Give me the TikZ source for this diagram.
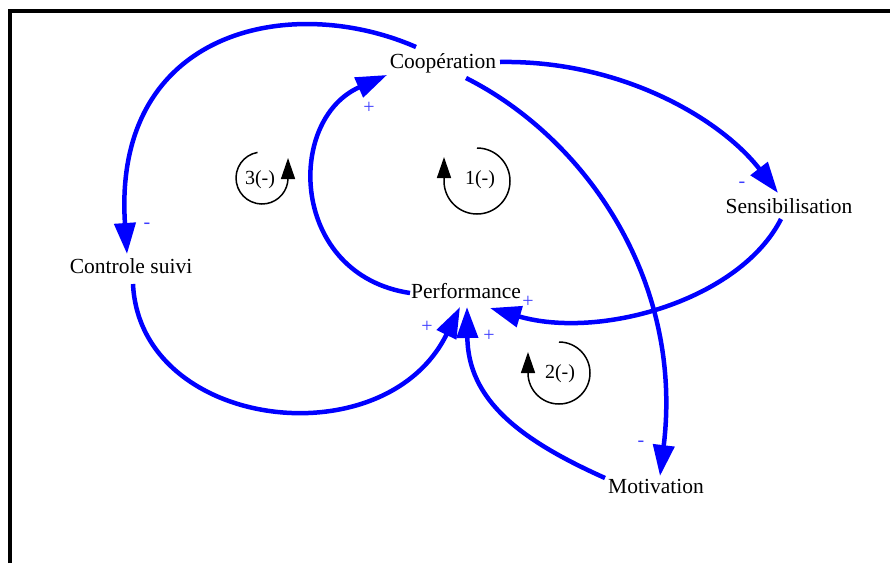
\documentclass[tikz,border=0pt]{standalone}
\usepackage{fontspec}
\setmainfont{Liberation Serif}
\usetikzlibrary{arrows.meta,calc}
\definecolor{lnk}{RGB}{0,0,255}
\definecolor{sgn}{RGB}{60,60,255}
\begin{document}
\begin{tikzpicture}[x=1pt,y=-1pt,
  var/.style={anchor=base,inner sep=0pt,font=\fontsize{21.5}{24}\selectfont},
  link/.style={draw=lnk,line width=4.5pt,-{Triangle[length=31pt,width=21pt]}},
  sgnlbl/.style={text=sgn,inner sep=0pt,font=\fontsize{20}{22}\selectfont},
  loopar/.style={draw=black,line width=1.5pt,-{Triangle[length=21pt,width=14pt]}},
  looplbl/.style={inner sep=0pt,font=\fontsize{20}{22}\selectfont}]
\useasboundingbox (0,0) rectangle (890,563);
\draw[line width=4pt] (10,563) -- (10,11.3) -- (890,11.3);

% variables
\node[var] (coop)  at (443,68)  {Coopération};
\node[var] (sens)  at (789,213) {Sensibilisation};
\node[var] (ctrl)  at (131,273) {Controle suivi};
\node[var] (perf)  at (466,298) {Performance};
\node[var] (motiv) at (656,493) {Motivation};

% links
\draw[link] ($(coop.base)+(-27,-21)$) .. controls (290,-8) and (112,30) .. ($(ctrl.base)+(-4,-19)$);
\draw[link] ($(perf.base)+(-56,-5)$) .. controls (290,275) and (285,120) .. ($(coop.base)+(-56,7)$);
\draw[link] ($(coop.base)+(57,-6)$) .. controls (620,60) and (720,118) .. ($(sens.base)+(-11,-20)$);
\draw[link] ($(sens.base)+(-8,6)$) .. controls (740,300) and (600,340) .. ($(perf.base)+(24,10)$);
\draw[link] ($(coop.base)+(23,10)$) .. controls (585,138) and (684,280) .. ($(motiv.base)+(4,-17)$);
\draw[link] ($(ctrl.base)+(2,11)$) .. controls (140,430) and (385,460) .. ($(perf.base)+(-6,9)$);
\draw[link] ($(motiv.base)+(-51,-15)$) .. controls (520,440) and (468,400) .. ($(perf.base)+(1,9)$);

% signs
\node[sgnlbl] (s1) at (147,226) {-};
\node[sgnlbl] (s2) at (369,108) {+};
\node[sgnlbl] (s3) at (742,185) {-};
\node[sgnlbl] (s4) at (528,302) {+};
\node[sgnlbl] (s5) at (641,444) {-};
\node[sgnlbl] (s6) at (427,327) {+};
\node[sgnlbl] (s7) at (489,336) {+};

% loop markers
\node[looplbl] (l3) at (260,180) {3(-)};
\draw[loopar] (257.5,152.4) arc[start angle=260, end angle=0, radius=26] -- ++(0,-20);
\node[looplbl] (l1) at (480,180) {1(-)};
\draw[loopar] (477,148) arc[start angle=-90, end angle=180, radius=33] -- ++(0,-24);
\node[looplbl] (l2) at (560,374) {2(-)};
\draw[loopar] (559,342) arc[start angle=-90, end angle=180, radius=31] -- ++(0,-21);
\end{tikzpicture}
\end{document}
